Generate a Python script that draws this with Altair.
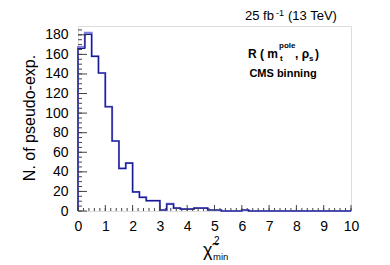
import altair as alt
import pandas as pd

# ---- data ----
bin_width = 0.25
n_bins = 40
counts_dark = [166, 180.5, 158, 141, 106.5, 71.5, 43.5, 49, 19.5, 14,
               10.5, 10.5, 1, 7, 3, 2, 2, 3, 3, 1,
               1, 0, 0, 0, 1, 0, 0, 0, 0, 0,
               0, 0, 0, 0, 0, 0, 0, 0, 0, 0]
counts_light = [167.5, 182, 158, 141, 106.5, 71.5, 43.5, 49, 19.5, 14,
                10.5, 10.5, 1, 7.5, 3, 2, 2, 3, 3, 1,
                1, 0, 0, 0, 1, 0, 0, 0, 0, 0,
                0, 0, 0, 0, 0, 0, 0, 0, 0, 0]
x_labels = [0, 1, 2, 3, 4, 5, 6, 7, 8, 9, 10]
y_labels = [0, 20, 40, 60, 80, 100, 120, 140, 160, 180]
x_minor = [i * 0.2 for i in range(51)]
y_minor = [i * 5 for i in range(38)]


def step_frame(counts, name):
    rows = [{"x": 0.0, "y": 0.0, "o": 0, "s": name}]
    for i, c in enumerate(counts):
        rows.append({"x": i * bin_width, "y": c, "o": i + 1, "s": name})
    rows.append({"x": n_bins * bin_width, "y": counts[-1], "o": n_bins + 1, "s": name})
    return pd.DataFrame(rows)


df_dark = step_frame(counts_dark, "dark")
df_light = step_frame(counts_light, "light")

W, H = 273, 185
FONT = "Liberation Sans"

xs = alt.Scale(domain=[0, 10], nice=False, zero=False)
ys = alt.Scale(domain=[0, 189], nice=False)

axis_x = alt.Axis(values=x_labels, ticks=False, domain=False, grid=False,
                  labelFontSize=14, labelFont=FONT, labelColor="black",
                  labelPadding=8, title=None, labelFlush=False, labelOverlap=False)
axis_y = alt.Axis(values=y_labels, ticks=False, domain=False, grid=False,
                  labelFontSize=14, labelFont=FONT, labelColor="black",
                  labelPadding=10, title=None, labelOverlap=False)

light = alt.Chart(df_light).mark_line(interpolate="step-after", color="#7676e2",
                                       strokeWidth=2, opacity=0.9).encode(
    x=alt.X("x:Q", scale=xs, axis=axis_x),
    y=alt.Y("y:Q", scale=ys, axis=axis_y),
    order="o:Q",
)
dark = alt.Chart(df_dark).mark_line(interpolate="step-after", color="#18188f",
                                     strokeWidth=1.2).encode(
    x=alt.X("x:Q", scale=xs, axis=axis_x),
    y=alt.Y("y:Q", scale=ys, axis=axis_y),
    order="o:Q",
)

tick_color = "#444444"
xmaj = alt.Chart(pd.DataFrame({"v": x_labels})).mark_rule(color=tick_color, strokeWidth=1).encode(
    x=alt.X("v:Q", scale=xs, axis=axis_x), y=alt.value(H), y2=alt.value(H - 6))
xmin = alt.Chart(pd.DataFrame({"v": x_minor})).mark_rule(color=tick_color, strokeWidth=1).encode(
    x=alt.X("v:Q", scale=xs, axis=axis_x), y=alt.value(H), y2=alt.value(H - 3))
ymaj = alt.Chart(pd.DataFrame({"v": y_labels})).mark_rule(color=tick_color, strokeWidth=1).encode(
    y=alt.Y("v:Q", scale=ys, axis=axis_y), x=alt.value(0), x2=alt.value(9))
ymin = alt.Chart(pd.DataFrame({"v": y_minor})).mark_rule(color=tick_color, strokeWidth=1).encode(
    y=alt.Y("v:Q", scale=ys, axis=axis_y), x=alt.value(0), x2=alt.value(4))

OX, OY = 78, 26  # plot origin in page pixels


def txt(t, px, py, size, bold=False, align="left", baseline="alphabetic", angle=0):
    kw = dict(font=FONT, fontSize=size, fontWeight="bold" if bold else "normal",
              align=align, baseline=baseline, color="black")
    if angle:
        kw["angle"] = angle
    return alt.Chart(pd.DataFrame({"t": [t]})).mark_text(**kw).encode(
        text="t:N", x=alt.value(px - OX), y=alt.value(py - OY))


texts = [
    # lumi label
    txt("25 fb", 245, 20, 13),
    txt("-1", 276, 15.5, 9),
    txt("(13 TeV)", 288, 20, 13),
    # R label
    txt("R ( m", 248, 58, 12, bold=True),
    txt("pole", 279, 48, 8, bold=True),
    txt("t", 280, 61, 8, bold=True),
    txt(", \u03c1", 295, 58, 12, bold=True),
    txt("s", 309, 61, 8, bold=True),
    txt(")", 315, 58, 12, bold=True),
    txt("CMS binning", 283, 77, 11, bold=True, align="center"),
    # axis titles
    txt("\u03c7\u0303", 203, 256, 18),
    txt("2", 214, 244, 10),
    txt("min", 213, 260, 9.5),
    txt("N. of pseudo-exp.", 35, 118, 16, align="center", angle=270),
]

chart = alt.layer(light, dark, xmin, xmaj, ymin, ymaj, *texts).properties(
    width=W, height=H,
    autosize=alt.AutoSizeParams(type="none"),
    padding={"left": OX - 8, "top": OY - 8, "right": 374 - (OX - 8) - W, "bottom": 265 - OY - H},
).configure_view(stroke="#333333", strokeWidth=1).configure(background="white")

chart.save("out.html", embed_options={"renderer": "svg", "actions": False})
